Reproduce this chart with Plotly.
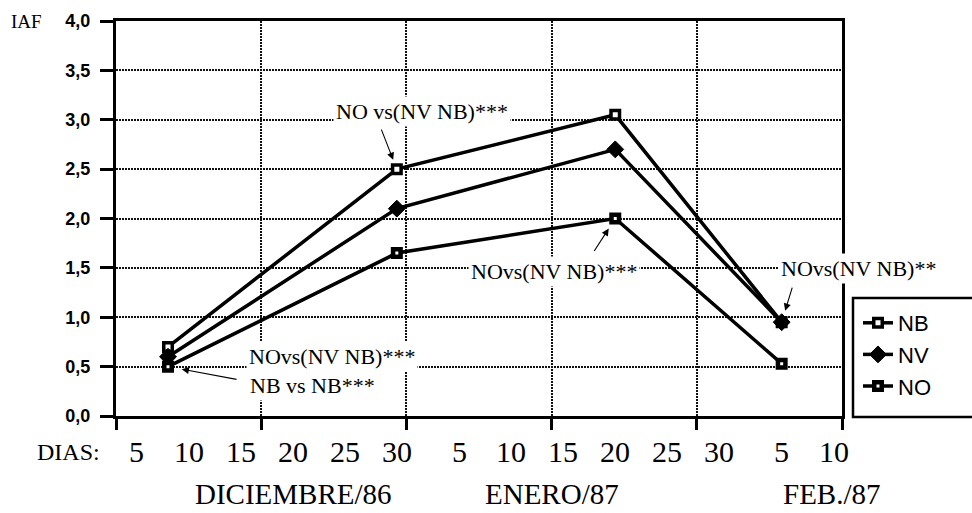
import plotly.graph_objects as go

# Sampling dates, counted in days from 1 December 1986
sample_day = [8, 30, 51, 67]

# Leaf area index (IAF) per treatment
iaf_nb = [0.70, 2.50, 3.05, 0.95]
iaf_nv = [0.60, 2.10, 2.70, 0.95]
iaf_no = [0.50, 1.65, 2.00, 0.53]

# Day-of-month labels along the date axis (days from 1 Dec 1986)
day_ticks = [5, 10, 15, 20, 25, 30, 36, 41, 46, 51, 56, 61, 67, 72]
day_text = ["5", "10", "15", "20", "25", "30", "5", "10", "15", "20", "25", "30", "5", "10"]

month_text = ["DICIEMBRE/86", "ENERO/87", "FEB./87"]

W, H = 972, 513
ML, MR, MT, MB = 116, 130, 21, 97
X_RANGE = [3.0, 72.8]

SERIF = "Liberation Serif, Times New Roman, serif"
SANS = "Liberation Sans, Arial, sans-serif"


def px_x(px):
    return (px - ML) / (W - ML - MR)


def px_y(py):
    return (H - MB - py) / (H - MT - MB)


fig = go.Figure()

fig.add_trace(go.Scatter(
    x=sample_day, y=iaf_nb, name="NB", mode="lines+markers",
    line=dict(color="black", width=3.5),
    marker=dict(symbol="square", size=8.5, color="white",
                line=dict(color="black", width=3.5)),
))
fig.add_trace(go.Scatter(
    x=sample_day, y=iaf_nv, name="NV", mode="lines+markers",
    line=dict(color="black", width=3.5),
    marker=dict(symbol="diamond", size=13, color="black",
                line=dict(color="black", width=1)),
))
fig.add_trace(go.Scatter(
    x=sample_day, y=iaf_no, name="NO", mode="lines+markers",
    line=dict(color="black", width=3.5),
    marker=dict(symbol="square", size=7.5, color="white",
                line=dict(color="black", width=4.5)),
))

annotations = []

# Day-of-month labels placed on the date scale
for d, t in zip(day_ticks, day_text):
    annotations.append(dict(
        x=d, xref="x", y=px_y(451), yref="paper", text=t, showarrow=False,
        xanchor="center", yanchor="middle",
        font=dict(family=SERIF, size=30, color="black"),
    ))

annotations.append(dict(
    x=px_x(68), xref="paper", y=px_y(452), yref="paper", text="DIAS:",
    showarrow=False, xanchor="center", yanchor="middle",
    font=dict(family=SERIF, size=24, color="black"),
))

for cx, t in zip([293, 552, 832], month_text):
    annotations.append(dict(
        x=px_x(cx), xref="paper", y=px_y(494), yref="paper", text=t,
        showarrow=False, xanchor="center", yanchor="middle",
        font=dict(family=SERIF, size=29, color="black"),
    ))

annotations.append(dict(
    x=px_x(26), xref="paper", y=px_y(21), yref="paper", text="IAF",
    showarrow=False, xanchor="center", yanchor="middle",
    font=dict(family=SERIF, size=19, color="black"),
))

# Significance notes
notes = [
    ("NO vs(NV NB)***", 422, 111),
    ("NOvs(NV NB)***", 554, 271),
    ("NOvs(NV NB)**", 858, 268),
    ("NOvs(NV NB)***", 332, 356),
    ("NB vs NB***", 312, 385),
]
for t, cx, cy in notes:
    annotations.append(dict(
        x=px_x(cx), xref="paper", y=px_y(cy), yref="paper", text=t,
        showarrow=False, xanchor="center", yanchor="middle",
        bgcolor="white", borderpad=2,
        font=dict(family=SERIF, size=22, color="black"),
    ))

# Pointers from the notes to the sampled values
pointers = [
    (sample_day[1], iaf_nb[1], -16, -41, 10),
    (sample_day[2], iaf_no[2], -22, 34, 12),
    (sample_day[3], iaf_nb[3], 11, -36, 12),
    (sample_day[0], iaf_no[0], 70, 13, 14),
]
for x, y, ax, ay, so in pointers:
    annotations.append(dict(
        x=x, y=y, xref="x", yref="y", ax=ax, ay=ay, text="",
        showarrow=True, arrowhead=2, arrowsize=1.3, arrowwidth=1.1,
        arrowcolor="black", standoff=so,
    ))

grid_dash = "2px,1px"

fig.update_layout(
    width=W, height=H,
    margin=dict(l=ML, r=MR, t=MT, b=MB),
    paper_bgcolor="white", plot_bgcolor="white",
    separators=",.",
    showlegend=True,
    legend=dict(
        x=px_x(858), y=px_y(302), xanchor="left", yanchor="top",
        bgcolor="rgba(0,0,0,0)", borderwidth=0,
        font=dict(family=SANS, size=22, color="black"),
        itemwidth=30, tracegroupgap=0,
    ),
    annotations=annotations,
    shapes=[dict(
        type="rect", xref="paper", yref="paper",
        x0=px_x(853), x1=px_x(1000), y0=px_y(417), y1=px_y(298),
        line=dict(color="black", width=2.5), fillcolor="white", layer="above",
    )],
    xaxis=dict(
        range=X_RANGE, tick0=X_RANGE[0], dtick=(X_RANGE[1] - X_RANGE[0]) / 5,
        showticklabels=False, ticks="outside", ticklen=11, tickwidth=3,
        tickcolor="black", showline=True, linewidth=3, linecolor="black",
        mirror=True, showgrid=True, gridcolor="#111", gridwidth=2,
        griddash=grid_dash, zeroline=False,
    ),
    yaxis=dict(
        range=[0, 4], tick0=0, dtick=0.5, tickformat=".1f",
        ticks="outside", ticklen=13, tickwidth=3, tickcolor="black",
        ticklabelstandoff=6,
        tickfont=dict(family=SANS, size=18, color="black", weight="bold"),
        showline=True, linewidth=3, linecolor="black", mirror=True,
        showgrid=True, gridcolor="#111", gridwidth=2, griddash=grid_dash,
        zeroline=False,
    ),
)

fig.write_html("out.html")
